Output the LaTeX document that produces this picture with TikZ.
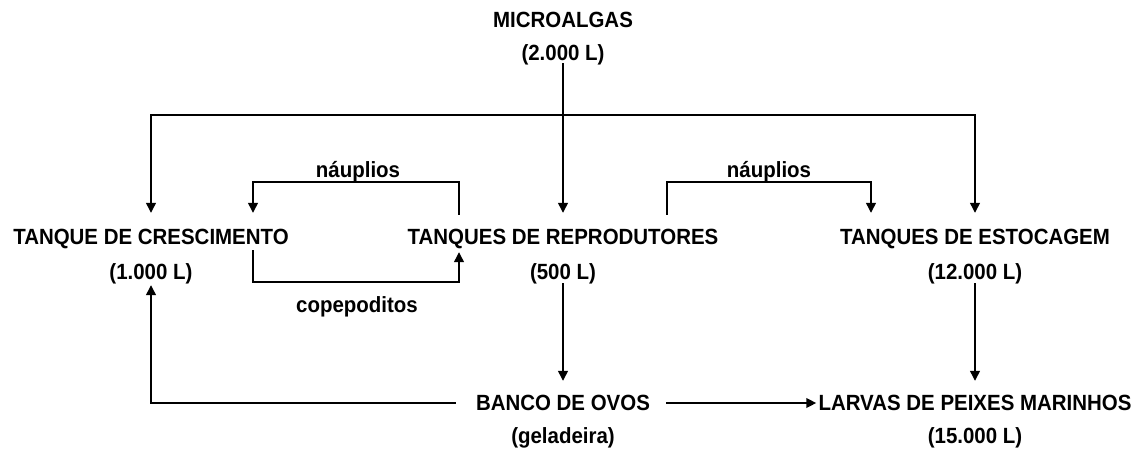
\documentclass[tikz,border=0pt]{standalone}
\usepackage{fontspec}
\setmainfont{Liberation Sans}[FakeStretch=0.93]
\usetikzlibrary{arrows.meta}
\begin{document}
\begin{tikzpicture}[x=1pt,y=1pt,
  lbl/.style={font=\bfseries\fontsize{22}{24}\selectfont, inner sep=0pt, text height=15.75pt, text depth=0pt, anchor=center, text=black},
  conn/.style={line width=2.3pt, draw=black, -{Triangle[length=10pt,width=9.5pt]}}]
\useasboundingbox (0,0) rectangle (1141,-450);
% nodes
\node[lbl] (micro)   at (563,-20)  {MICROALGAS};
\node[lbl] (microv)  at (563,-53)  {(2.000 L)};
\node[lbl] (cresc)   at (151,-237) {TANQUE DE CRESCIMENTO};
\node[lbl] (crescv)  at (151,-272) {(1.000 L)};
\node[lbl] (repro)   at (563,-237) {TANQUES DE REPRODUTORES};
\node[lbl] (reprov)  at (563,-272) {(500 L)};
\node[lbl] (estoc)   at (975,-237) {TANQUES DE ESTOCAGEM};
\node[lbl] (estocv)  at (975,-272) {(12.000 L)};
\node[lbl] (banco)   at (563,-403) {BANCO DE OVOS};
\node[lbl] (bancov)  at (563,-436) {(geladeira)};
\node[lbl] (larvas)  at (975,-403) {LARVAS DE PEIXES MARINHOS};
\node[lbl] (larvasv) at (975,-436) {(15.000 L)};
\node[lbl] (nauL)    at (358,-170) {náuplios};
\node[lbl] (nauR)    at (769,-170) {náuplios};
\node[lbl] (cope)    at (357,-305) {copepoditos};
% helper coordinates
\coordinate (j)   at (563,-115);
\coordinate (nlA) at (459,-182);
\coordinate (nlB) at (253,-182);
\coordinate (cpA) at (253,-282);
\coordinate (cpB) at (459,-282);
\coordinate (nrA) at (667,-182);
\coordinate (nrB) at (871,-182);
% connectors
\draw[conn, shorten <=2pt, shorten >=16pt] (microv.south) -- (repro.north);
\draw[conn, shorten >=16pt] (j) -| (cresc.north);
\draw[conn, shorten >=16pt] (j) -| (estoc.north);
\draw[conn, shorten <=14pt, shorten >=16pt] (repro.north -| nlA) -- (nlA) -- (nlB) -- (cresc.north -| nlB);
\draw[conn, shorten <=5pt, shorten >=7pt] (cresc.south -| cpA) -- (cpA) -- (cpB) -- (repro.south -| cpB);
\draw[conn, shorten <=14pt, shorten >=16pt] (repro.north -| nrA) -- (nrA) -- (nrB) -- (estoc.north -| nrB);
\draw[conn, shorten <=3pt, shorten >=14pt] (reprov.south) -- (banco.north);
\draw[conn, shorten <=3pt, shorten >=14pt] (estocv.south) -- (larvas.north -| estocv.south);
\draw[conn, shorten <=20pt, shorten >=5pt] (banco.west) -| (crescv.south);
\draw[conn, shorten <=16pt, shorten >=2pt] (banco.east) -- (larvas.west);
\end{tikzpicture}
\end{document}
